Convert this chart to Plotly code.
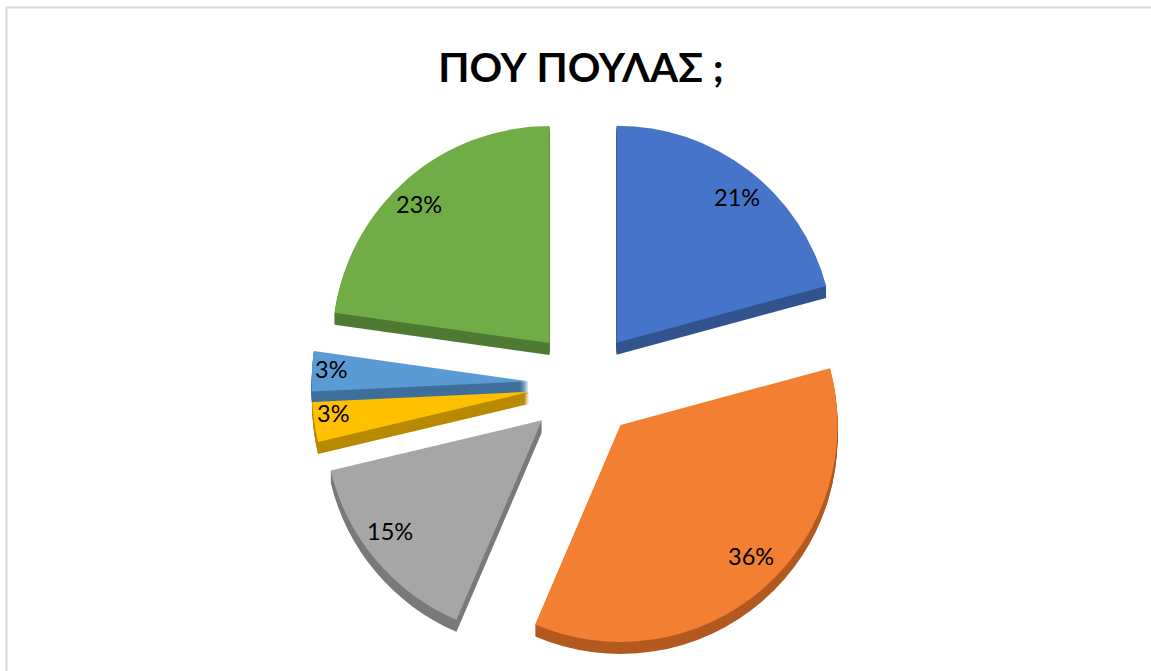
import math
import plotly.graph_objects as go

categories = ["A", "B", "C", "D", "E", "F"]
values = [21, 36, 15, 3, 3, 23]
pulls = [0.24, 0.25, 0.26, 0.26, 0.26, 0.25]
colors = ["#4674C8", "#F27F32", "#A6A6A6", "#FFC000", "#5B9BD5", "#70AD47"]
side_colors = ["#32548F", "#B35A21", "#7A7A7A", "#B88A00", "#3F6F9C", "#4F7A33"]
title_text = "ΠΟΥ ΠΟΥΛΑΣ ;"
label_texts = ["21%", "36%", "15%", "3%", "3%", "23%"]

W, H = 1151, 671
cx, cy = 585, 384
R = 217
size = 2 * R * (1 + max(pulls))


def domain(dy):
    return dict(
        x=[(cx - size / 2) / W, (cx + size / 2) / W],
        y=[1 - (cy + dy + size / 2) / H, 1 - (cy + dy - size / 2) / H],
    )


fig = go.Figure()
for dy in range(12, 0, -1):
    fig.add_trace(go.Pie(labels=categories, values=values, pull=pulls, sort=False,
                         direction="clockwise", rotation=0, domain=domain(dy),
                         marker=dict(colors=side_colors, line=dict(width=0)),
                         textinfo="none", hoverinfo="skip", showlegend=False))
fig.add_trace(go.Pie(labels=categories, values=values, pull=pulls, sort=False,
                     direction="clockwise", rotation=0, domain=domain(0),
                     marker=dict(colors=colors, line=dict(width=0)),
                     textinfo="none", showlegend=False))

total = sum(values)
cum = 0
annotations = []
for v, p, t in zip(values, pulls, label_texts):
    a = (cum + v / 2) / total * 2 * math.pi
    cum += v
    r = R * (p + 0.89)
    annotations.append(dict(x=cx + 1.02 * r * math.sin(a), y=cy - 4 - 0.94 * r * math.cos(a),
                            xref="x", yref="y", text=t, showarrow=False,
                            font=dict(family="Lato, Carlito, sans-serif", size=23.5, color="#000000")))

fig.update_layout(
    width=W, height=H, margin=dict(l=0, r=0, t=0, b=0),
    paper_bgcolor="#FFFFFF", plot_bgcolor="rgba(0,0,0,0)",
    xaxis=dict(range=[0, W], visible=False, fixedrange=True),
    yaxis=dict(range=[H, 0], visible=False, fixedrange=True),
    title=dict(text="<b>" + title_text + "</b>", x=581 / W, xanchor="center", y=1 - 68 / H, yanchor="middle",
               font=dict(family="Lato, Carlito, sans-serif", size=40.5, color="#000000")),
    annotations=annotations,
    shapes=[dict(type="rect", xref="paper", yref="paper", x0=6.5 / W, x1=1.01, y0=-0.01, y1=1 - 7.5 / H,
                 line=dict(color="#D9D9D9", width=2), fillcolor="rgba(0,0,0,0)")],
)
fig.write_html("out.html", config={"displayModeBar": False},
               post_script="document.body.style.margin='0';document.body.style.overflow='hidden';")
